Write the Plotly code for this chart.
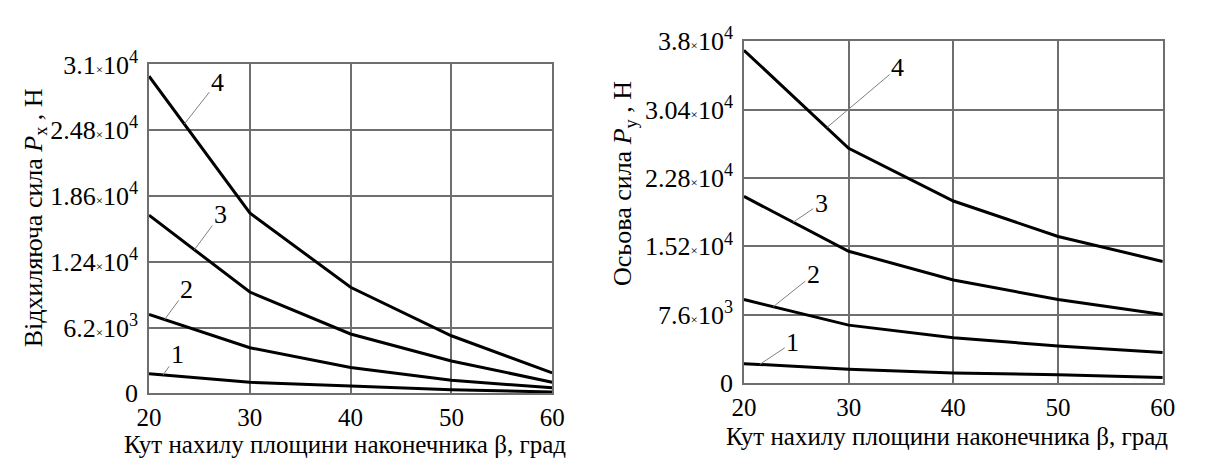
import numpy as np
import plotly.graph_objects as go

W, H = 1211, 466

# Кут нахилу площини наконечника, град
beta = [20, 30, 40, 50, 60]

# Відхиляюча сила Px, Н (криві 1–4)
px_1 = [1850, 1050, 700, 350, 120]
px_2 = [7450, 4300, 2450, 1230, 520]
px_3 = [16800, 9550, 5600, 3060, 1050]
px_4 = [29900, 17000, 10000, 5430, 1930]

# Осьова сила Py, Н (криві 1–4)
py_1 = [2170, 1550, 1140, 930, 620]
py_2 = [9290, 6450, 5060, 4130, 3410]
py_3 = [20750, 14660, 11460, 9290, 7640]
py_4 = [37000, 26100, 20240, 16300, 13530]

curve_names = ["1", "2", "3", "4"]

# Tick values and labels
px_ticks = [0, 6200, 12400, 18600, 24800, 31000]
py_ticks = [0, 7600, 15200, 22800, 30400, 38000]
px_tick_text = ["0", "6.2", "1.24", "1.86", "2.48", "3.1"]
py_tick_text = ["0", "7.6", "1.52", "2.28", "3.04", "3.8"]
px_tick_exp = [None, 3, 4, 4, 4, 4]
py_tick_exp = [None, 3, 4, 4, 4, 4]

# Where the numbered leader lines touch each curve (β) and text offsets (px)
px_label_beta = [21.4, 21.55, 24.5, 23.5]
px_label_off = [(14, -20), (22, -30), (26, -35), (33, -42)]
py_label_beta = [21.5, 22.8, 24.7, 27.9]
py_label_off = [(33, -22), (40, -32), (28, -19), (71, -60)]

FONT = "Times New Roman, Liberation Serif, Tinos, DejaVu Serif, serif"
GRID = "#6e6e6e"


def sci_labels(mant, exps):
    out = []
    for m, e in zip(mant, exps):
        if e is None:
            out.append(m)
        else:
            out.append(f"{m}<span style='font-size:13px'>×</span>10<sup>{e}</sup>")
    return out


fig = go.Figure()

left_series = [px_1, px_2, px_3, px_4]
right_series = [py_1, py_2, py_3, py_4]

for s in left_series:
    fig.add_trace(go.Scatter(x=beta, y=s, mode="lines", xaxis="x", yaxis="y",
                             line=dict(color="black", width=3), showlegend=False,
                             hoverinfo="skip"))
for s in right_series:
    fig.add_trace(go.Scatter(x=beta, y=s, mode="lines", xaxis="x2", yaxis="y2",
                             line=dict(color="black", width=3), showlegend=False,
                             hoverinfo="skip"))

label_font = dict(family=FONT, size=26, color="black")
annotations = []
for name, s, b, (ox, oy) in zip(curve_names, left_series, px_label_beta, px_label_off):
    annotations.append(dict(x=b, y=float(np.interp(b, beta, s)), xref="x", yref="y",
                            text=name, showarrow=True, arrowhead=0, arrowwidth=1,
                            arrowcolor="#808080", ax=ox, ay=oy, standoff=0,
                            font=label_font))
for name, s, b, (ox, oy) in zip(curve_names, right_series, py_label_beta, py_label_off):
    annotations.append(dict(x=b, y=float(np.interp(b, beta, s)), xref="x2", yref="y2",
                            text=name, showarrow=True, arrowhead=0, arrowwidth=1,
                            arrowcolor="#808080", ax=ox, ay=oy, standoff=0,
                            font=label_font))

title_font = dict(family=FONT, size=25, color="black")
xtitle = "Кут нахилу площини наконечника β, град"
annotations += [
    dict(x=339 / W, y=1 - 459 / H, xref="paper", yref="paper", text=xtitle,
         showarrow=False, font=title_font, xanchor="center", yanchor="middle",
         borderpad=0),
    dict(x=954 / W, y=1 - 450 / H, xref="paper", yref="paper", text=xtitle,
         showarrow=False, font=title_font, xanchor="center", yanchor="middle",
         borderpad=0),
    dict(x=22 / W, y=1 - 215 / H, xref="paper", yref="paper",
         text="Відхиляюча сила <i>P</i><sub>x</sub> , Н", textangle=-90,
         showarrow=False, font=dict(family=FONT, size=26, color="black"),
         xanchor="center", yanchor="middle"),
    dict(x=625 / W, y=1 - 178 / H, xref="paper", yref="paper",
         text="Осьова сила <i>P</i><sub>y</sub> , Н", textangle=-90,
         showarrow=False, font=dict(family=FONT, size=26, color="black"),
         xanchor="center", yanchor="middle"),
]

xtick_font = dict(family=FONT, size=25, color="black")
ytick_font = dict(family=FONT, size=26, color="black")
common_x = dict(range=[20, 60], dtick=10, tick0=20, showgrid=True, gridcolor=GRID,
                gridwidth=1.5, showline=True, linecolor=GRID, linewidth=1.5, mirror=True,
                ticks="", zeroline=False, tickfont=xtick_font, ticklabelstandoff=1)
common_y = dict(showgrid=True, gridcolor=GRID, gridwidth=1.5, showline=True,
                linecolor=GRID, linewidth=1.5, mirror=True, ticks="", zeroline=False,
                tickfont=ytick_font, ticklabelstandoff=4, tickmode="array")

fig.update_layout(
    width=W, height=H,
    margin=dict(l=0, r=0, t=0, b=0),
    paper_bgcolor="white", plot_bgcolor="white",
    font=dict(family=FONT),
    xaxis=dict(domain=[139 / W, 551 / W], anchor="y", **common_x),
    yaxis=dict(domain=[1 - 404 / H, 1 - 50 / H], anchor="x", range=[0, 31000],
               tickvals=px_ticks, ticktext=sci_labels(px_tick_text, px_tick_exp), **common_y),
    xaxis2=dict(domain=[747 / W, 1175 / W], anchor="y2", **common_x),
    yaxis2=dict(domain=[1 - 393 / H, 1 - 25 / H], anchor="x2", range=[0, 38000],
                tickvals=py_ticks, ticktext=sci_labels(py_tick_text, py_tick_exp), **common_y),
    annotations=annotations,
    showlegend=False,
)

fig.write_html("out.html")
